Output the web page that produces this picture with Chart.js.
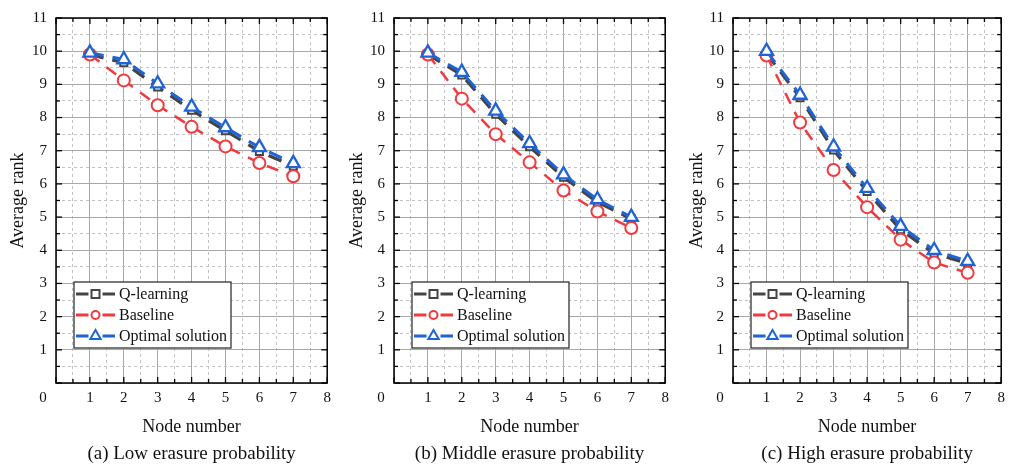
<!DOCTYPE html>
<html><head><meta charset="utf-8">
<script src="https://cdn.jsdelivr.net/npm/chart.js@4/dist/chart.umd.min.js"></script>
<style>
html,body{margin:0;padding:0;background:#fff;width:1011px;height:471px;overflow:hidden;position:relative;}
canvas{position:absolute;top:0;}
</style></head><body>
<canvas id="ca" width="337" height="471" style="left:0px"></canvas>
<canvas id="cb" width="337" height="471" style="left:338px"></canvas>
<canvas id="cc" width="334" height="471" style="left:677px"></canvas>
<script>
// ---- data ----
const categories = [1, 2, 3, 4, 5, 6, 7];
const seriesNames = ['Q-learning', 'Baseline', 'Optimal solution'];
const xTickLabels = ['0', '1', '2', '3', '4', '5', '6', '7', '8'];
const yTickLabels = ['', '1', '2', '3', '4', '5', '6', '7', '8', '9', '10', '11'];
const subtitles = ['(a) Low erasure probability', '(b) Middle erasure probability', '(c) High erasure probability'];
const xTitle = 'Node number';
const yTitle = 'Average rank';

const qLow    = [9.90, 9.65, 8.92, 8.22, 7.60, 6.98, 6.53];
const baseLow = [9.90, 9.12, 8.37, 7.72, 7.13, 6.63, 6.23];
const optLow  = [9.95, 9.75, 9.02, 8.32, 7.70, 7.10, 6.62];

const qMid    = [9.90, 9.28, 8.10, 7.12, 6.20, 5.45, 4.95];
const baseMid = [9.90, 8.57, 7.50, 6.65, 5.80, 5.17, 4.67];
const optMid  = [9.95, 9.37, 8.20, 7.22, 6.28, 5.53, 5.00];

const qHigh    = [9.93, 8.60, 7.02, 5.77, 4.62, 3.90, 3.60];
const baseHigh = [9.87, 7.85, 6.42, 5.30, 4.32, 3.63, 3.32];
const optHigh  = [10.0, 8.68, 7.12, 5.87, 4.73, 4.00, 3.67];

// ---- styling ----
const FONT = '"Liberation Serif", "Times New Roman", serif';
Chart.defaults.font.family = FONT;
Chart.defaults.color = '#111';
const COL_Q = '#444444', COL_B = '#ef3a3f', COL_O = '#1f63d6';

function pts(arr) { return categories.map((c, i) => ({x: c, y: arr[i]})); }

function drawMarker(ctx, style, x, y, r) {
  ctx.beginPath();
  if (style === 'rect') {
    ctx.rect(x - r, y - r, 2 * r, 2 * r);
  } else if (style === 'circle') {
    ctx.arc(x, y, r, 0, Math.PI * 2);
  } else {
    ctx.moveTo(x, y - r);
    ctx.lineTo(x + r * 0.866, y + r * 0.5);
    ctx.lineTo(x - r * 0.866, y + r * 0.5);
    ctx.closePath();
  }
  ctx.fillStyle = '#fff';
  ctx.fill();
  ctx.stroke();
}

const framePlugin = {
  id: 'frame',
  afterDatasetsDraw(chart) {
    const {ctx, chartArea: ca, scales} = chart;
    const xs = scales.x2, ys = scales.y2;
    ctx.save();
    ctx.strokeStyle = '#000';
    ctx.lineWidth = 1.3;
    ctx.setLineDash([]);
    const seg = (a, b, c, d) => { ctx.beginPath(); ctx.moveTo(a, b); ctx.lineTo(c, d); ctx.stroke(); };
    xs.ticks.forEach(t => {
      const px = xs.getPixelForValue(t.value);
      const len = Math.abs(t.value - Math.round(t.value)) < 1e-6 ? 6 : 4;
      seg(px, ca.bottom, px, ca.bottom - len);
      seg(px, ca.top, px, ca.top + len);
    });
    ys.ticks.forEach(t => {
      const py = ys.getPixelForValue(t.value);
      const len = Math.abs(t.value - Math.round(t.value)) < 1e-6 ? 6 : 4;
      seg(ca.left, py, ca.left + len, py);
      seg(ca.right, py, ca.right - len, py);
    });
    ctx.lineWidth = 1.5;
    ctx.strokeRect(ca.left, ca.top, ca.width, ca.height);

    // boxed legend
    ctx.font = '16px ' + FONT;
    const textW = Math.max(...chart.data.datasets.map(d => ctx.measureText(d.label).width));
    const bx = ca.left + 18, by = ca.top + 264;
    const bw = 45 + textW + 4, bh = 66;
    ctx.fillStyle = '#fff';
    ctx.fillRect(bx, by, bw, bh);
    ctx.lineWidth = 1.2;
    ctx.strokeStyle = '#222';
    ctx.strokeRect(bx, by, bw, bh);
    chart.data.datasets.forEach((ds, i) => {
      const cy = by + 12 + 21 * i;
      const x0 = bx + 2, x1 = bx + 41, xm = bx + 21.5;
      ctx.strokeStyle = ds.borderColor;
      ctx.lineWidth = 3;
      seg(x0, cy, xm - 7, cy);
      seg(xm + 7, cy, x1, cy);
      ctx.lineWidth = 2;
      drawMarker(ctx, ds.pointStyle, xm, cy, ds.pointStyle === 'triangle' ? 6 : 4);
      ctx.fillStyle = '#111';
      ctx.textBaseline = 'middle';
      ctx.textAlign = 'left';
      ctx.fillText(ds.label, bx + 45, cy + 1);
    });
    ctx.restore();
  }
};

function isInt(v) { return Math.abs(v - Math.round(v)) < 1e-6; }

function makePanel(id, q, base, opt, subtitle, cfg) {
  new Chart(document.getElementById(id), {
    type: 'line',
    data: {
      datasets: [
        {label: seriesNames[0], data: pts(q), borderColor: COL_Q, borderWidth: 3.2, borderDash: [14, 9],
         pointStyle: 'rect', pointRadius: 5, pointBorderWidth: 2, pointBackgroundColor: '#fff', pointBorderColor: COL_Q, order: 3},
        {label: seriesNames[1], data: pts(base), borderColor: COL_B, borderWidth: 2.5, borderDash: [12, 9],
         pointStyle: 'circle', pointRadius: 6, pointBorderWidth: 2, pointBackgroundColor: '#fff', pointBorderColor: COL_B, order: 2},
        {label: seriesNames[2], data: pts(opt), borderColor: COL_O, borderWidth: 3, borderDash: [14, 9],
         pointStyle: 'triangle', pointRadius: 7.5, pointBorderWidth: 2.3, pointBackgroundColor: '#fff', pointBorderColor: COL_O, order: 1}
      ]
    },
    options: {
      responsive: false,
      animation: false,
      events: [],
      layout: {padding: {left: 0, top: 17, right: cfg.padRight, bottom: 0}},
      plugins: {
        legend: {display: false},
        tooltip: {enabled: false},
        title: {display: true, position: 'bottom', fullSize: false, text: subtitle, color: '#111',
                font: {size: 19, weight: 'normal', family: FONT}, padding: {top: 0, bottom: 5.1}}
      },
      scales: {
        x: {
          type: 'linear', position: 'bottom', min: 0, max: 8,
          ticks: {stepSize: 1, autoSkip: false, maxRotation: 0, padding: 6, color: '#111',
                  font: {size: 15, family: FONT},
                  callback: (v, i) => i === 0 ? xTickLabels[0] + '\u00a0'.repeat(7) : xTickLabels[i]},
          grid: {color: '#a8a8a8', lineWidth: 1, drawTicks: false},
          border: {display: false},
          title: {display: true, text: xTitle, color: '#111', font: {size: 18, family: FONT},
                  padding: {top: 0, bottom: 4.9}},
          afterFit: s => { s.height = 60.1; }
        },
        x2: {
          type: 'linear', position: 'bottom', min: 0, max: 8,
          ticks: {display: false, stepSize: 0.5},
          grid: {drawTicks: false, lineWidth: 1,
                 color: c => isInt(c.tick.value) ? 'rgba(0,0,0,0)' : '#c2c2c2'},
          border: {display: false, dash: [3, 3]},
          afterFit: s => { s.height = 0; }
        },
        y: {
          type: 'linear', position: 'left', min: 0, max: 11,
          ticks: {stepSize: 1, padding: 9, color: '#111', font: {size: 15, family: FONT},
                  callback: (v, i) => yTickLabels[i]},
          grid: {color: '#a8a8a8', lineWidth: 1, drawTicks: false},
          border: {display: false},
          title: {display: true, text: yTitle, color: '#111', font: {size: 18, family: FONT},
                  padding: {top: cfg.yTitlePad, bottom: 0}},
          afterFit: s => { s.width = 56; }
        },
        y2: {
          type: 'linear', position: 'left', min: 0, max: 11,
          ticks: {display: false, stepSize: 0.5},
          grid: {drawTicks: false, lineWidth: 1,
                 color: c => isInt(c.tick.value) ? 'rgba(0,0,0,0)' : '#c2c2c2'},
          border: {display: false, dash: [3, 3]},
          afterFit: s => { s.width = 0; }
        }
      }
    },
    plugins: [framePlugin]
  });
}

makePanel('ca', qLow, baseLow, optLow, subtitles[0], {padRight: 7, yTitlePad: 7});
makePanel('cb', qMid, baseMid, optMid, subtitles[1], {padRight: 6, yTitlePad: 8});
makePanel('cc', qHigh, baseHigh, optHigh, subtitles[2], {padRight: 4, yTitlePad: 9});
</script>
</body></html>
